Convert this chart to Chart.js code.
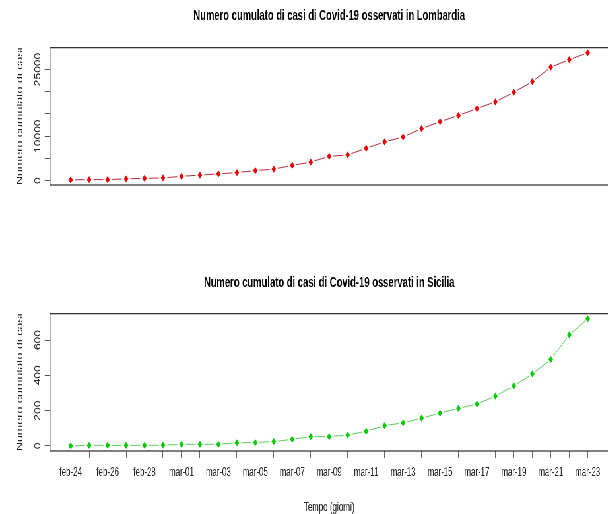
<!DOCTYPE html>
<html>
<head>
<meta charset="utf-8">
<script src="https://cdn.jsdelivr.net/npm/chart.js@4.4.1/dist/chart.umd.min.js"></script>
<style>
  html, body { margin: 0; padding: 0; background: #fff; overflow: hidden; }
  #wrap { position: absolute; left: 0; top: 0; width: 930px; height: 514px; transform-origin: 0 0; }
  canvas { position: absolute; left: 0; }
</style>
</head>
<body>
<div id="wrap">
  <canvas id="lomb" width="930" height="257" style="top:0"></canvas>
  <canvas id="sic" width="930" height="257" style="top:257px"></canvas>
</div>
<script>
// dati
const giorni = ["feb-24", "feb-25", "feb-26", "feb-27", "feb-28", "feb-29", "mar-01",
  "mar-02", "mar-03", "mar-04", "mar-05", "mar-06", "mar-07", "mar-08", "mar-09",
  "mar-10", "mar-11", "mar-12", "mar-13", "mar-14", "mar-15", "mar-16", "mar-17",
  "mar-18", "mar-19", "mar-20", "mar-21", "mar-22", "mar-23"];
const casiLombardia = [172, 240, 258, 403, 531, 615, 984, 1254, 1520, 1820, 2251, 2612,
  3420, 4189, 5469, 5791, 7280, 8725, 9820, 11685, 13272, 14649, 16220, 17713, 19884,
  22264, 25515, 27206, 28761];
const casiSicilia = [0, 3, 3, 3, 3, 4, 9, 9, 9, 18, 19, 25, 37, 53, 53, 62, 83, 115, 131,
  157, 186, 213, 237, 282, 340, 408, 490, 629, 721];
const tickLombardia = [0, 5000, 10000, 15000, 20000, 25000];
const etichetteLombardia = ["0", "", "10000", "", "", "25000"];
const tickSicilia = [0, 200, 400, 600];
const etichetteSicilia = ["0", "200", "400", "600"];

// the reference is squashed horizontally, so draw wide and scale down
const SX = 0.66;
const W = 930;
const PLOT_L = 50 / SX;
const PLOT_R = 608.4 / SX;
const FONT = '"Liberation Sans", Arial, sans-serif';
document.getElementById("wrap").style.transform = `scaleX(${SX})`;

// R style axis range: data range plus 4% each side
function rangeR(v) {
  const lo = Math.min(...v), hi = Math.max(...v), d = (hi - lo) * 0.04;
  return [lo - d, hi + d];
}

const cornice = {
  id: "cornice",
  afterDatasetsDraw(chart, args, o) {
    const { ctx, chartArea: a, scales: { y } } = chart;
    ctx.save();
    ctx.strokeStyle = "#2a2a2a";
    ctx.lineWidth = 1.2;
    ctx.strokeRect(a.left, a.top, a.right - a.left, a.bottom - a.top);
    ctx.fillStyle = "#222";
    ctx.font = "12px " + FONT;
    ctx.textAlign = "center";
    ctx.textBaseline = "middle";
    o.tick.forEach((v, i) => {
      if (!o.etichette[i]) return;
      ctx.save();
      ctx.translate(a.left - 18, y.getPixelForValue(v));
      ctx.rotate(-Math.PI / 2);
      ctx.fillText(o.etichette[i], 0, 0);
      ctx.restore();
    });
    ctx.restore();
  },
};

function grafico(id, valori, yTick, yEtichette, opz) {
  const [ymin, ymax] = rangeR(valori);
  const n = giorni.length - 1;
  return new Chart(document.getElementById(id), {
    type: "line",
    data: {
      datasets: [{
        data: valori.map((v, i) => ({ x: i, y: v })),
        borderColor: opz.linea,
        borderWidth: 1,
        pointStyle: "rectRot",
        pointRadius: 5.2,
        pointBackgroundColor: opz.punto,
        pointBorderColor: "#fff",
        pointBorderWidth: 2.4,
        tension: 0,
      }],
    },
    options: {
      responsive: false,
      animation: false,
      devicePixelRatio: 1,
      events: [],
      layout: { padding: { left: 0, right: W - PLOT_R, top: 0, bottom: opz.padBasso } },
      plugins: {
        legend: { display: false },
        tooltip: { enabled: false },
        title: {
          display: true,
          text: opz.titolo,
          fullSize: false,
          color: "#000",
          font: { family: FONT, size: 14.3, weight: "bold", lineHeight: 1.2 },
          padding: opz.padTitolo,
        },
        cornice: { tick: yTick, etichette: yEtichette },
      },
      scales: {
        x: {
          type: "linear",
          min: -n * 0.04,
          max: n * 1.04,
          display: opz.asseX,
          afterBuildTicks: (s) => { s.ticks = giorni.map((g, i) => ({ value: i })); },
          afterFit: (s) => { s.height = opz.altezzaX; },
          border: { display: false },
          grid: { drawOnChartArea: false, drawTicks: true, tickLength: 7, color: "#666" },
          ticks: {
            autoSkip: false,
            maxRotation: 0,
            padding: 9,
            color: "#222",
            font: { family: FONT, size: 12, lineHeight: 1 },
            callback: (v, i) => (i % 2 === 0 ? giorni[i] : ""),
          },
          title: {
            display: true,
            text: "Tempo (giorni)",
            color: "#222",
            font: { family: FONT, size: 12, lineHeight: 1 },
            padding: { top: 0, bottom: 0 },
          },
        },
        y: {
          min: ymin,
          max: ymax,
          afterBuildTicks: (s) => { s.ticks = yTick.map((v) => ({ value: v })); },
          afterFit: (s) => { s.width = PLOT_L; },
          border: { display: false },
          grid: { drawOnChartArea: false, drawTicks: true, tickLength: 8, color: "#555" },
          ticks: { display: false },
          title: {
            display: true,
            text: "Numero cumulato di casi",
            color: "#222",
            font: { family: FONT, size: 12.5, lineHeight: 1 },
            padding: { top: 24, bottom: 0 },
          },
        },
      },
    },
    plugins: [cornice],
  });
}

grafico("lomb", casiLombardia, tickLombardia, etichetteLombardia, {
  titolo: "Numero cumulato di casi di Covid-19 osservati in Lombardia",
  linea: "#b03040",
  punto: "#ee0000",
  asseX: false,
  altezzaX: 0,
  padBasso: 72,
  padTitolo: { top: 7.6, bottom: 22.9 },
});

grafico("sic", casiSicilia, tickSicilia, etichetteSicilia, {
  titolo: "Numero cumulato di casi di Covid-19 osservati in Sicilia",
  linea: "#5ccc5c",
  punto: "#00cc00",
  asseX: true,
  altezzaX: 63,
  padBasso: 0,
  padTitolo: { top: 17.6, bottom: 21.9 },
});
</script>
</body>
</html>
